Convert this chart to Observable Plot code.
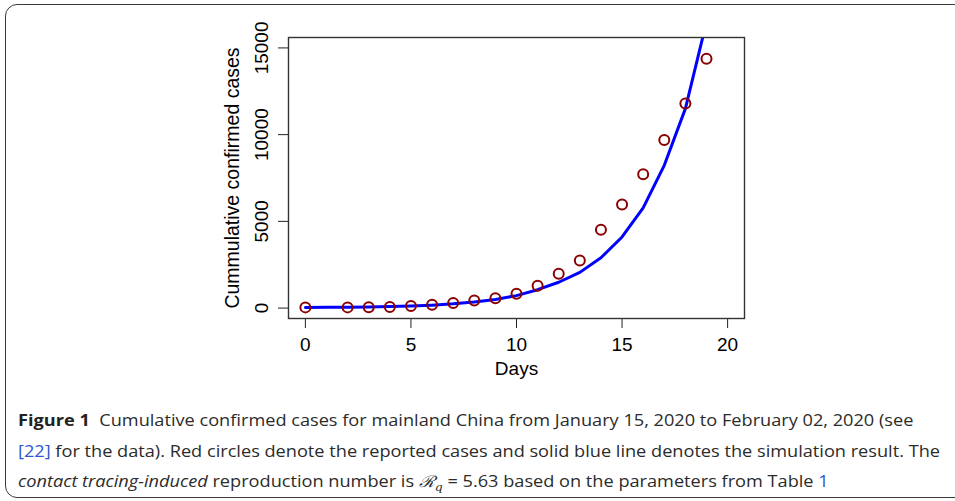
<!DOCTYPE html>
<html>
<head>
<meta charset="utf-8">
<script src="https://cdn.jsdelivr.net/npm/d3@7"></script>
<script src="https://cdn.jsdelivr.net/npm/@observablehq/plot@0.6"></script>
<style>
  html, body { margin: 0; padding: 0; background: #fff; }
  #wrap { position: relative; width: 955px; height: 501px; overflow: hidden; }
  #border { position: absolute; left: 5px; top: 4px; width: 1000px; height: 494px;
            border: 1.5px solid #3a3a3a; border-radius: 12px; box-sizing: border-box; }
  #chart { position: absolute; left: 0; top: 0; }
  #caption { position: absolute; left: 18px; top: 405px; font-family: "Open Sans", "Noto Sans", sans-serif;
             font-size: 16px; color: #2b2b2b; line-height: 30.5px; white-space: nowrap; }
  #caption .ln { display: block; transform-origin: 0 50%; }
  #caption b { font-weight: 700; color: #222; }
  #caption .ref { color: #2f55d4; }
</style>
</head>
<body>
<div id="wrap">
  <div id="border"></div>
  <div id="chart"></div>
  <div id="caption"></div>
</div>
<script>
// Reported cumulative confirmed cases (red circles)
const reportedDays = [0, 2, 3, 4, 5, 6, 7, 8, 9, 10, 11, 12, 13, 14, 15, 16, 17, 18, 19];
const reportedCases = [41, 41, 45, 62, 121, 198, 291, 440, 571, 830, 1287, 1975, 2744, 4515, 5974, 7711, 9692, 11791, 14380];

// Simulation result (blue line)
const simDays = [0, 1, 2, 3, 4, 5, 6, 7, 8, 9, 10, 11, 12, 13, 14, 15, 16, 17, 18, 19];
const simCases = [41, 45, 52, 66, 88, 120, 170, 245, 350, 500, 720, 1060, 1490, 2060, 2900, 4100, 5780, 8230, 11500, 16500];

// Axis ticks and labels
const xTicks = [0, 5, 10, 15, 20];
const yTicks = [0, 5000, 10000, 15000];
const xLabel = "Days";
const yLabel = "Cummulative confirmed cases";

const reported = reportedDays.map((d, i) => ({day: d, cases: reportedCases[i]}));
const sim = simDays.map((d, i) => ({day: d, cases: simCases[i]}));

const font = "'Liberation Sans', Arial, sans-serif";
const fs = 19;

const chart = Plot.plot({
  width: 955,
  height: 392,
  marginLeft: 288,
  marginRight: 211,
  marginTop: 37,
  marginBottom: 392 - 318,
  style: {fontFamily: font, fontSize: fs + "px", color: "#000", background: "transparent", overflow: "visible"},
  x: {domain: [-0.8, 20.8], axis: null},
  y: {domain: [-600, 15600], axis: null},
  marks: [
    Plot.axisX({ticks: xTicks, tickSize: 10, tickPadding: 9, fontSize: fs, stroke: "#222", label: null}),
    Plot.axisY({ticks: yTicks, tickSize: 10, tickFormat: () => "", label: null, stroke: "#222"}),
    Plot.text(yTicks, {y: d => d, frameAnchor: "left", text: d => String(d), rotate: -90,
                       dx: -27, textAnchor: "middle", lineAnchor: "middle", fontSize: fs, fill: "#000"}),
    Plot.text([yLabel], {frameAnchor: "left", text: d => d, rotate: -90, dx: -56,
                         textAnchor: "middle", lineAnchor: "middle", fontSize: fs + 0.5, fill: "#000"}),
    Plot.text([xLabel], {frameAnchor: "bottom", text: d => d, dy: 50,
                         textAnchor: "middle", lineAnchor: "middle", fontSize: fs, fill: "#000"}),
    Plot.line(sim, {x: "day", y: "cases", stroke: "#0000ff", strokeWidth: 3, clip: true}),
    Plot.dot(reported, {x: "day", y: "cases", r: 5, stroke: "#8b0000", strokeWidth: 2, fill: "none"}),
    Plot.frame({stroke: "#333", strokeWidth: 1.4})
  ]
});
document.getElementById("chart").appendChild(chart);

// Caption
const cap = document.getElementById("caption");
cap.innerHTML =
  '<span class="ln"><b>Figure 1</b>&nbsp;&nbsp;Cumulative confirmed cases for mainland China from January 15, 2020 to February 02, 2020 (see</span>' +
  '<span class="ln"><span class="ref">[22]</span> for the data). Red circles denote the reported cases and solid blue line denotes the simulation result. The</span>' +
  '<span class="ln"><i>contact tracing-induced</i> reproduction number is <i style="font-family:\'DejaVu Serif\',serif">ℛ<sub style="font-size:11px">q</sub></i> = 5.63 based on the parameters from Table <span class="ref">1</span></span>';
const lines = cap.querySelectorAll(".ln");
const w0 = lines[0].getBoundingClientRect().width;
const s = 922 / w0;
lines.forEach(l => { l.style.transform = `scaleX(${s})`; });
</script>
</body>
</html>
